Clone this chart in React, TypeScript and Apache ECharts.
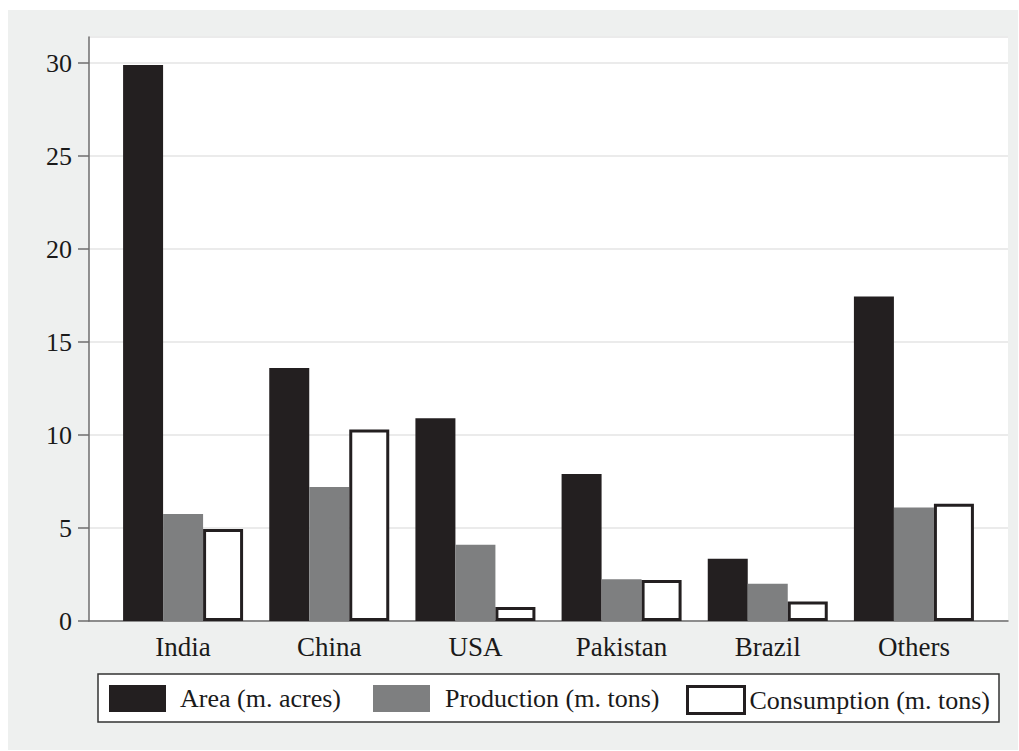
import React, { useEffect, useRef } from "react";
import * as echarts from "echarts";

const categories = ["India", "China", "USA", "Pakistan", "Brazil", "Others"];
const areaValues = [29.9, 13.6, 10.9, 7.9, 3.35, 17.45];
const productionValues = [5.75, 7.2, 4.1, 2.25, 2.0, 6.1];
const consumptionValues = [4.95, 10.3, 0.75, 2.2, 1.05, 6.3];
const seriesNames = ["Area (m. acres)", "Production (m. tons)", "Consumption (m. tons)"];

const FONT = "Liberation Serif";
const AXIS_COLOR = "#6e6e6e";
const DARK = "#231f20";
const GRAY = "#7e7f80";

export default function App() {
  const ref = useRef<HTMLDivElement>(null);
  useEffect(() => {
    if (!ref.current) return;
    const chart = echarts.init(ref.current, null, { renderer: "svg" });
    const legendBase = {
      top: 685,
      itemWidth: 57,
      itemHeight: 27,
      padding: 0,
      icon: "rect",
      selectedMode: false,
    };
    chart.setOption({
      animation: false,
      textStyle: { fontFamily: FONT },
      graphic: [
        {
          type: "rect",
          z: -10,
          shape: { x: 8, y: 10, width: 1010, height: 740 },
          style: { fill: "#eef0ef" },
          silent: true,
        },
        {
          type: "rect",
          z: 1,
          shape: { x: 98, y: 674, width: 901, height: 48 },
          style: { fill: "#ffffff", stroke: "#333333", lineWidth: 1.5 },
          silent: true,
        },
      ],
      grid: [
        {
          left: 89,
          top: 37,
          width: 919,
          height: 584,
          show: true,
          backgroundColor: "#ffffff",
          borderWidth: 0,
        },
        { left: 110, top: 37, width: 877, height: 584 },
      ],
      xAxis: [
        {
          type: "category",
          gridIndex: 0,
          data: categories,
          axisLine: { show: true, lineStyle: { color: AXIS_COLOR, width: 1.5 } },
          axisTick: { show: false },
          axisLabel: { show: false },
          splitLine: { show: false },
          z: 1,
        },
        {
          type: "category",
          gridIndex: 1,
          data: categories,
          axisLine: { show: false },
          axisTick: { show: false },
          axisLabel: {
            show: true,
            color: "#1a1a1a",
            fontFamily: FONT,
            fontSize: 27,
            margin: 12,
          },
        },
      ],
      yAxis: [
        {
          type: "value",
          gridIndex: 0,
          min: 0,
          max: 31.4,
          interval: 5,
          axisLine: { show: true, lineStyle: { color: AXIS_COLOR, width: 1.5 } },
          axisTick: { show: true, length: 11, lineStyle: { color: AXIS_COLOR, width: 1.5 } },
          axisLabel: {
            color: "#1a1a1a",
            fontFamily: FONT,
            fontSize: 26,
            margin: 17,
            showMaxLabel: false,
          },
          splitLine: { show: true, lineStyle: { color: "#ebebeb", width: 2 } },
          z: 0,
        },
        {
          type: "value",
          gridIndex: 1,
          min: 0,
          max: 31.4,
          interval: 5,
          show: false,
          splitLine: { show: false },
        },
      ],
      legend: [
        {
          ...legendBase,
          left: 109,
          data: [
            {
              name: seriesNames[0],
              itemStyle: { color: DARK, borderWidth: 0 },
              textStyle: { fontFamily: FONT, fontSize: 26, color: "#1a1a1a", padding: [0, 0, 0, 9] },
            },
          ],
        },
        {
          ...legendBase,
          left: 373,
          data: [
            {
              name: seriesNames[1],
              itemStyle: { color: GRAY, borderWidth: 0 },
              textStyle: { fontFamily: FONT, fontSize: 26, color: "#1a1a1a", padding: [0, 0, 0, 10] },
            },
          ],
        },
        {
          ...legendBase,
          left: 686,
          data: [
            {
              name: seriesNames[2],
              itemStyle: { color: "#ffffff", borderColor: DARK, borderWidth: 3 },
              textStyle: { fontFamily: FONT, fontSize: 26, color: "#1a1a1a", padding: [0, 0, 0, 0] },
            },
          ],
        },
      ],
      series: [
        {
          name: seriesNames[0],
          type: "bar",
          xAxisIndex: 1,
          yAxisIndex: 1,
          data: areaValues,
          barWidth: 40,
          barGap: "0%",
          itemStyle: { color: DARK },
          z: 5,
        },
        {
          name: seriesNames[1],
          type: "bar",
          xAxisIndex: 1,
          yAxisIndex: 1,
          data: productionValues,
          barWidth: 40,
          barGap: "0%",
          itemStyle: { color: GRAY },
          z: 5,
        },
        {
          name: seriesNames[2],
          type: "bar",
          xAxisIndex: 1,
          yAxisIndex: 1,
          data: consumptionValues,
          barWidth: 40,
          barGap: "0%",
          itemStyle: { color: "#ffffff", borderColor: DARK, borderWidth: 3 },
          z: 6,
        },
      ],
    });
    return () => chart.dispose();
  }, []);
  return (
    <div
      ref={ref}
      style={{ position: "absolute", left: 0, top: 0, width: 1019, height: 751 }}
    />
  );
}
